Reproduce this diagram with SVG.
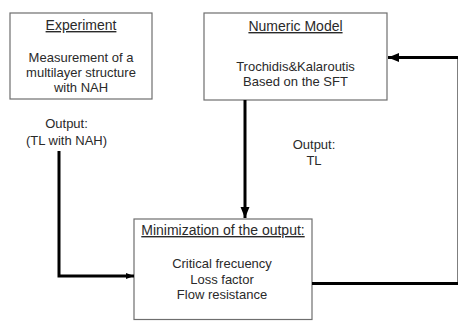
<svg xmlns="http://www.w3.org/2000/svg" width="458" height="321" viewBox="0 0 458 321">
<style>
.box{fill:#fff;stroke:#6e6e6e;stroke-width:1.2}
text{font-family:"Liberation Sans",Arial,sans-serif;fill:#2a2a2a;text-anchor:middle}
.t{font-size:14px;text-decoration:underline}
.b{font-size:13px}
.c{fill:none;stroke:#000;stroke-width:3}
</style>
<defs>
<marker id="ah" markerUnits="userSpaceOnUse" markerWidth="12" markerHeight="12" viewBox="0 0 12 12" refX="11" refY="6" orient="auto">
<path d="M0,1.5 L11,6 L0,10.5 Z" fill="#000"/>
</marker>
<marker id="ahs" markerUnits="userSpaceOnUse" markerWidth="9" markerHeight="9" viewBox="0 0 9 9" refX="8" refY="4.5" orient="auto">
<path d="M0,1.5 L8,4.5 L0,7.5 Z" fill="#000"/>
</marker>
</defs>
<rect width="458" height="321" fill="#fff"/>
<g id="experiment">
<rect class="box" x="10" y="13" width="142" height="86"/>
<text class="t" x="81" y="30">Experiment</text>
<text class="b" x="81" y="62">Measurement of a</text>
<text class="b" x="81" y="77">multilayer structure</text>
<text class="b" x="81" y="92">with NAH</text>
</g>
<g id="numeric-model">
<rect class="box" x="204" y="13" width="183" height="87"/>
<text class="t" x="295.5" y="31">Numeric Model</text>
<text class="b" x="295.5" y="71">Trochidis&amp;Kalaroutis</text>
<text class="b" x="295.5" y="86">Based on the SFT</text>
</g>
<g id="minimization">
<rect class="box" x="134" y="219" width="178" height="100.5"/>
<text class="t" x="223" y="235">Minimization of the output:</text>
<text class="b" x="222" y="268">Critical frecuency</text>
<text class="b" x="222" y="284">Loss factor</text>
<text class="b" x="222" y="299">Flow resistance</text>
</g>
<g id="labels">
<text class="b" x="66.5" y="128">Output:</text>
<text class="b" x="66.5" y="145">(TL with NAH)</text>
<text class="b" x="314" y="149">Output:</text>
<text class="b" x="314" y="165">TL</text>
</g>
<g id="connectors">
<path class="c" d="M245,100 V218" marker-end="url(#ah)"/>
<path class="c" d="M59,151 V276 H134" marker-end="url(#ahs)"/>
<path class="c" d="M312,283.5 H459 V57.5 H388" marker-end="url(#ah)"/>
</g>
</svg>
